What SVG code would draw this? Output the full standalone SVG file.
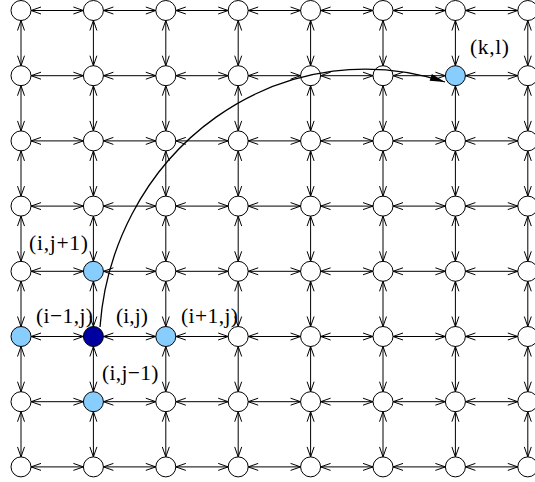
<svg xmlns="http://www.w3.org/2000/svg" xmlns:xlink="http://www.w3.org/1999/xlink" width="535" height="482" viewBox="0 0 535 482">
<style>
.n{fill:#ffffff;stroke:#000000;stroke-width:1}
.lt{fill:#87ceff}
.dk{fill:#0000a0}
.e{stroke:#000000;stroke-width:1;fill:none;marker-start:url(#v);marker-end:url(#v)}
.c{stroke:#000000;stroke-width:1.3;fill:none;marker-end:url(#f)}
.t{font-family:"Liberation Serif","Times New Roman",serif;font-size:21.5px;fill:#000000}
</style>
<defs>
<marker id="v" viewBox="-11 -5 12 10" refX="0" refY="0" markerWidth="12" markerHeight="10" markerUnits="userSpaceOnUse" orient="auto-start-reverse">
<path d="M-10,-3.5 L0,0 L-10,3.5" fill="none" stroke="#000000" stroke-width="1"/>
</marker>
<marker id="f" viewBox="-16 -5 17 10" refX="0" refY="0" markerWidth="17" markerHeight="10" markerUnits="userSpaceOnUse" orient="auto">
<path d="M-15,-3.5 L0,0 L-15,3.5 Z" fill="#000000"/>
</marker>
<g id="hrow">
<line class="e" x1="31" y1="0" x2="83.4" y2="0"/>
<line class="e" x1="103.4" y1="0" x2="155.8" y2="0"/>
<line class="e" x1="175.8" y1="0" x2="228.2" y2="0"/>
<line class="e" x1="248.2" y1="0" x2="300.6" y2="0"/>
<line class="e" x1="320.6" y1="0" x2="373" y2="0"/>
<line class="e" x1="393" y1="0" x2="445.4" y2="0"/>
<line class="e" x1="465.4" y1="0" x2="517.8" y2="0"/>
</g>
<g id="vcol">
<line class="e" x1="0" y1="20.5" x2="0" y2="65.7"/>
<line class="e" x1="0" y1="85.7" x2="0" y2="130.9"/>
<line class="e" x1="0" y1="150.9" x2="0" y2="196.1"/>
<line class="e" x1="0" y1="216.1" x2="0" y2="261.3"/>
<line class="e" x1="0" y1="281.3" x2="0" y2="326.5"/>
<line class="e" x1="0" y1="346.5" x2="0" y2="391.7"/>
<line class="e" x1="0" y1="411.7" x2="0" y2="456.9"/>
</g>
</defs>
<g id="nodes">
<g id="row0">
<circle class="n" cx="21" cy="10.5" r="10"/><circle class="n" cx="93.4" cy="10.5" r="10"/><circle class="n" cx="165.8" cy="10.5" r="10"/><circle class="n" cx="238.2" cy="10.5" r="10"/><circle class="n" cx="310.6" cy="10.5" r="10"/><circle class="n" cx="383" cy="10.5" r="10"/><circle class="n" cx="455.4" cy="10.5" r="10"/><circle class="n" cx="527.8" cy="10.5" r="10"/>
</g>
<g id="row1">
<circle class="n" cx="21" cy="75.7" r="10"/><circle class="n" cx="93.4" cy="75.7" r="10"/><circle class="n" cx="165.8" cy="75.7" r="10"/><circle class="n" cx="238.2" cy="75.7" r="10"/><circle class="n" cx="310.6" cy="75.7" r="10"/><circle class="n" cx="383" cy="75.7" r="10"/><circle class="n" cx="527.8" cy="75.7" r="10"/>
</g>
<g id="node-kl"><circle class="n lt" cx="455.4" cy="75.7" r="10"/></g>
<g id="row2">
<circle class="n" cx="21" cy="140.9" r="10"/><circle class="n" cx="93.4" cy="140.9" r="10"/><circle class="n" cx="165.8" cy="140.9" r="10"/><circle class="n" cx="238.2" cy="140.9" r="10"/><circle class="n" cx="310.6" cy="140.9" r="10"/><circle class="n" cx="383" cy="140.9" r="10"/><circle class="n" cx="455.4" cy="140.9" r="10"/><circle class="n" cx="527.8" cy="140.9" r="10"/>
</g>
<g id="row3">
<circle class="n" cx="21" cy="206.1" r="10"/><circle class="n" cx="93.4" cy="206.1" r="10"/><circle class="n" cx="165.8" cy="206.1" r="10"/><circle class="n" cx="238.2" cy="206.1" r="10"/><circle class="n" cx="310.6" cy="206.1" r="10"/><circle class="n" cx="383" cy="206.1" r="10"/><circle class="n" cx="455.4" cy="206.1" r="10"/><circle class="n" cx="527.8" cy="206.1" r="10"/>
</g>
<g id="row4">
<circle class="n" cx="21" cy="271.3" r="10"/><circle class="n" cx="165.8" cy="271.3" r="10"/><circle class="n" cx="238.2" cy="271.3" r="10"/><circle class="n" cx="310.6" cy="271.3" r="10"/><circle class="n" cx="383" cy="271.3" r="10"/><circle class="n" cx="455.4" cy="271.3" r="10"/><circle class="n" cx="527.8" cy="271.3" r="10"/>
</g>
<g id="node-ijp1"><circle class="n lt" cx="93.4" cy="271.3" r="10"/></g>
<g id="row5">
<circle class="n" cx="238.2" cy="336.5" r="10"/><circle class="n" cx="310.6" cy="336.5" r="10"/><circle class="n" cx="383" cy="336.5" r="10"/><circle class="n" cx="455.4" cy="336.5" r="10"/><circle class="n" cx="527.8" cy="336.5" r="10"/>
</g>
<g id="node-im1j"><circle class="n lt" cx="21" cy="336.5" r="10"/></g>
<g id="node-ij"><circle class="n dk" cx="93.4" cy="336.5" r="10"/></g>
<g id="node-ip1j"><circle class="n lt" cx="165.8" cy="336.5" r="10"/></g>
<g id="row6">
<circle class="n" cx="21" cy="401.7" r="10"/><circle class="n" cx="165.8" cy="401.7" r="10"/><circle class="n" cx="238.2" cy="401.7" r="10"/><circle class="n" cx="310.6" cy="401.7" r="10"/><circle class="n" cx="383" cy="401.7" r="10"/><circle class="n" cx="455.4" cy="401.7" r="10"/><circle class="n" cx="527.8" cy="401.7" r="10"/>
</g>
<g id="node-ijm1"><circle class="n lt" cx="93.4" cy="401.7" r="10"/></g>
<g id="row7">
<circle class="n" cx="21" cy="466.9" r="10"/><circle class="n" cx="93.4" cy="466.9" r="10"/><circle class="n" cx="165.8" cy="466.9" r="10"/><circle class="n" cx="238.2" cy="466.9" r="10"/><circle class="n" cx="310.6" cy="466.9" r="10"/><circle class="n" cx="383" cy="466.9" r="10"/><circle class="n" cx="455.4" cy="466.9" r="10"/><circle class="n" cx="527.8" cy="466.9" r="10"/>
</g>
</g>
<g id="connectors">
<use xlink:href="#hrow" href="#hrow" y="10.5"/>
<use xlink:href="#hrow" href="#hrow" y="75.7"/>
<use xlink:href="#hrow" href="#hrow" y="140.9"/>
<use xlink:href="#hrow" href="#hrow" y="206.1"/>
<use xlink:href="#hrow" href="#hrow" y="271.3"/>
<use xlink:href="#hrow" href="#hrow" y="336.5"/>
<use xlink:href="#hrow" href="#hrow" y="401.7"/>
<use xlink:href="#hrow" href="#hrow" y="466.9"/>
<use xlink:href="#vcol" href="#vcol" x="21"/>
<use xlink:href="#vcol" href="#vcol" x="93.4"/>
<use xlink:href="#vcol" href="#vcol" x="165.8"/>
<use xlink:href="#vcol" href="#vcol" x="238.2"/>
<use xlink:href="#vcol" href="#vcol" x="310.6"/>
<use xlink:href="#vcol" href="#vcol" x="383"/>
<use xlink:href="#vcol" href="#vcol" x="455.4"/>
<use xlink:href="#vcol" href="#vcol" x="527.8"/>
<path class="c" d="M100,327 A266,279 0 0 1 445,82"/>
</g>
<g id="labels">
<text class="t" x="470" y="54" textLength="39" lengthAdjust="spacing">(k,l)</text>
<text class="t" x="29" y="249.5" textLength="59" lengthAdjust="spacing">(i,j+1)</text>
<text class="t" x="36" y="322.5" textLength="57" lengthAdjust="spacing">(i−1,j)</text>
<text class="t" x="116" y="322.5" textLength="32" lengthAdjust="spacing">(i,j)</text>
<text class="t" x="181" y="322.5" textLength="57" lengthAdjust="spacing">(i+1,j)</text>
<text class="t" x="102" y="380" textLength="56.5" lengthAdjust="spacing">(i,j−1)</text>
</g>
</svg>
